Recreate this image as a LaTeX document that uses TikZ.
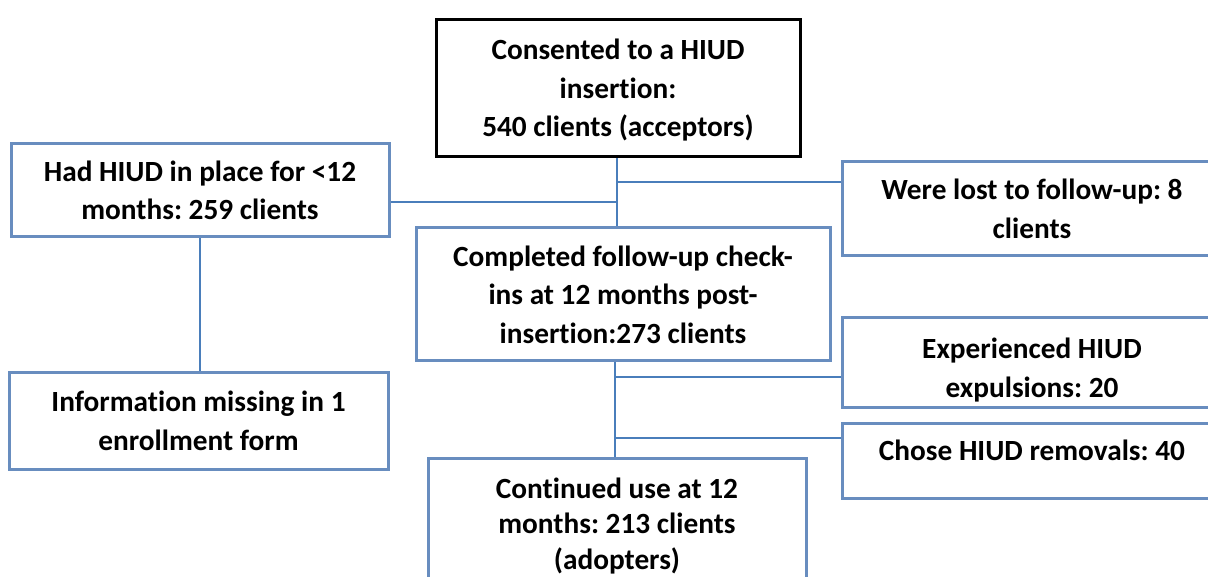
\documentclass[tikz,border=0pt]{standalone}
\usepackage{fontspec}
\setmainfont{Carlito}[Ligatures = NoCommon]
\frenchspacing
\definecolor{boxblue}{RGB}{104,141,191}
\definecolor{lineblue}{RGB}{74,126,187}
\tikzset{
    box/.style = { draw = boxblue, line width = 3pt, rectangle, inner sep = 0pt, align = center,
        font = \fontsize{29.3}{38.5}\selectfont\bfseries },
    link/.style = { draw = lineblue, line width = 1.5pt }
}
\begin{document}
\begin{tikzpicture}[ x = 1pt, y = -1pt ]
        \useasboundingbox ( 0, 0 ) rectangle ( 1208, 577 );
        \clip ( 0, 0 ) rectangle ( 1208, 577 );

        % acceptors
        \node [ box, draw = black, minimum width = 364pt, minimum height = 137pt,
            text height = 104pt, text depth = 7pt ] (acc) at ( 618, 88.5 )
            {Consented to a HIUD\\ insertion:\\ 540 clients (acceptors)};

        % less than 12 months
        \node [ box, minimum width = 378pt, minimum height = 93pt ] (lt12) at ( 200, 190.5 )
            {Had HIUD in place for <12\\ months: 259 clients};
        \node [ box, minimum width = 379pt, minimum height = 96pt ] (miss) at ( 198.5, 421 )
            {Information missing in 1\\ enrollment form};

        % lost
        \node [ box, minimum width = 380pt, minimum height = 94pt ] (lost) at ( 1032, 209 )
            {Were lost to follow-up: 8\\ clients};

        % completed
        \node [ box, minimum width = 414pt, minimum height = 133pt ] (compl) at ( 623, 294.5 )
            {Completed follow-up check-\\ ins at 12 months post-\\ insertion:273 clients};

        % expulsions and removals
        \node [ box, minimum width = 380pt, minimum height = 89pt,
            text height = 76pt, text depth = 7pt ] (expul) at ( 1032, 362.5 )
            {Experienced HIUD\\ expulsions: 20};
        \node [ box, minimum width = 380pt, minimum height = 75pt, text depth = 21pt ] (remov) at ( 1032, 460.5 )
            {Chose HIUD removals: 40};

        % adopters
        \node [ box, minimum width = 378pt, minimum height = 136pt,
            font = \fontsize{29.3}{35.5}\selectfont\bfseries ] (adopt) at ( 617, 526 )
            {Continued use at 12\\ months: 213 clients\\ (adopters)};

        % junctions
        \coordinate (jl) at ( 617, 202 );
        \coordinate (jr) at ( 617, 182 );
        \coordinate (je) at ( 615, 377 );
        \coordinate (jc) at ( 615, 438 );

        % lines
        \draw [link] (acc.south-|jl) -- (compl.north-|jl);
        \draw [link] (lt12.east|-jl) -- (jl);
        \draw [link] (jr) -- (lost.west|-jr);
        \draw [link] (lt12.south) -- (lt12.south|-miss.north);
        \draw [link] (compl.south-|je) -- (adopt.north-|je);
        \draw [link] (je) -- (expul.west|-je);
        \draw [link] (jc) -- (remov.west|-jc);
    \end{tikzpicture}
\end{document}
